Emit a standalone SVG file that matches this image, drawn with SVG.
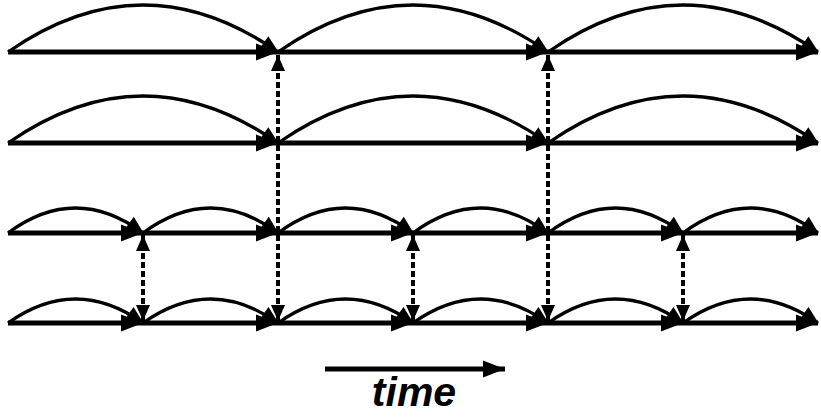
<svg xmlns="http://www.w3.org/2000/svg" width="821" height="417" viewBox="0 0 821 417">
<style>
.ln{stroke:#000;stroke-width:5;fill:none;marker-end:url(#ah)}
.arc{stroke:#000;stroke-width:3.3;fill:none;marker-end:url(#aa)}
.dash{stroke:#000;stroke-width:4;fill:none;stroke-dasharray:6 3;marker-start:url(#ad);marker-end:url(#ad)}
text{font-family:"Liberation Sans",Arial,sans-serif;font-weight:bold;font-style:italic}
</style>
<defs>
<marker id="ah" markerUnits="userSpaceOnUse" markerWidth="22" markerHeight="17" refX="22" refY="8.5" orient="auto" overflow="visible"><path d="M0,0 L22,8.5 L0,17 z" fill="#000"/></marker>
<marker id="aa" markerUnits="userSpaceOnUse" markerWidth="18" markerHeight="15" refX="17" refY="7.5" orient="auto" overflow="visible"><path d="M0,0 L18,7.5 L0,15 z" fill="#000"/></marker>
<marker id="ad" markerUnits="userSpaceOnUse" markerWidth="16" markerHeight="14" refX="16" refY="7" orient="auto-start-reverse" overflow="visible"><path d="M0,0 L16,7 L0,14 z" fill="#000"/></marker>
</defs>
<g id="row1">
<path class="ln" d="M8,52 H278"/><path class="ln" d="M278,52 H548"/><path class="ln" d="M548,52 H818"/>
<path class="arc" d="M8,52 Q143,-42 278,52"/><path class="arc" d="M278,52 Q413,-42 548,52"/><path class="arc" d="M548,52 Q683,-42 818,52"/>
</g>
<g id="row2">
<path class="ln" d="M8,143 H278"/><path class="ln" d="M278,143 H548"/><path class="ln" d="M548,143 H818"/>
<path class="arc" d="M8,143 Q143,49 278,143"/><path class="arc" d="M278,143 Q413,49 548,143"/><path class="arc" d="M548,143 Q683,49 818,143"/>
</g>
<g id="row3">
<path class="ln" d="M8,233 H143"/><path class="ln" d="M143,233 H278"/><path class="ln" d="M278,233 H413"/><path class="ln" d="M413,233 H548"/><path class="ln" d="M548,233 H683"/><path class="ln" d="M683,233 H818"/>
<path class="arc" d="M8,233 Q75.5,183 143,233"/><path class="arc" d="M143,233 Q210.5,183 278,233"/><path class="arc" d="M278,233 Q345.5,183 413,233"/><path class="arc" d="M413,233 Q480.5,183 548,233"/><path class="arc" d="M548,233 Q615.5,183 683,233"/><path class="arc" d="M683,233 Q750.5,183 818,233"/>
</g>
<g id="row4">
<path class="ln" d="M8,323 H143"/><path class="ln" d="M143,323 H278"/><path class="ln" d="M278,323 H413"/><path class="ln" d="M413,323 H548"/><path class="ln" d="M548,323 H683"/><path class="ln" d="M683,323 H818"/>
<path class="arc" d="M8,323 Q75.5,275 143,323"/><path class="arc" d="M143,323 Q210.5,275 278,323"/><path class="arc" d="M278,323 Q345.5,275 413,323"/><path class="arc" d="M413,323 Q480.5,275 548,323"/><path class="arc" d="M548,323 Q615.5,275 683,323"/><path class="arc" d="M683,323 Q750.5,275 818,323"/>
</g>
<g id="connectors">
<path class="dash" d="M278,55 V321"/>
<path class="dash" d="M548,55 V321"/>
<path class="dash" d="M143,235 V321"/>
<path class="dash" d="M413,235 V321"/>
<path class="dash" d="M683,235 V321"/>
</g>
<g id="time">
<path class="ln" d="M325,369 H505"/>
<text x="414" y="406" font-size="41" text-anchor="middle">time</text>
</g>
</svg>
